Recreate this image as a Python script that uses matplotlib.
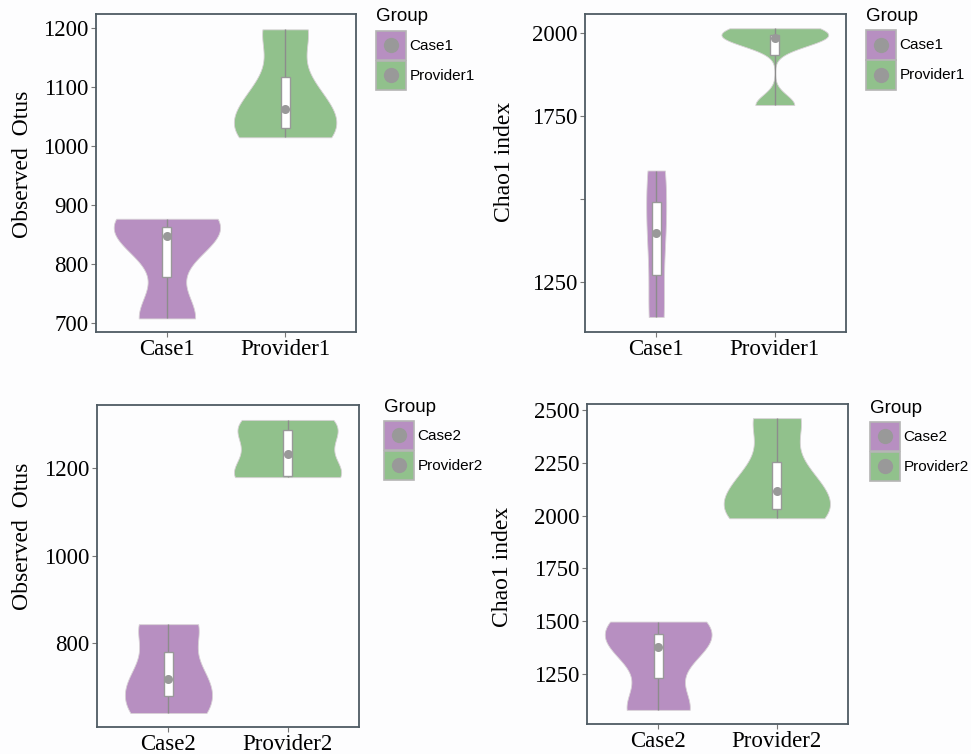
import numpy as np
import matplotlib
matplotlib.use('Agg')
import matplotlib.pyplot as plt
from matplotlib.patches import Rectangle

W, H = 971, 754

# ---------------- data (sample values) ----------------
obs1_case1 = [708, 848, 877]
obs1_provider1 = [1015, 1035, 1090, 1198]
chao1_case1 = [1145, 1398, 1586]
chao1_provider1 = [1783, 1984, 1988, 2014]
obs2_case2 = [640, 717, 843]
obs2_provider2 = [1179, 1184, 1279, 1310]
chao2_case2 = [1080, 1379, 1498]
chao2_provider2 = [1987, 2044, 2186, 2461]

groups1 = ['Case1', 'Provider1']
groups2 = ['Case2', 'Provider2']
legend_title = 'Group'
ylabel_obs = 'Observed  Otus'
ylabel_chao = 'Chao1 index'

obs1_ticks = [700, 800, 900, 1000, 1100, 1200]
obs1_ticklabels = ['700', '800', '900', '1000', '1100', '1200']
chao1_ticks = [1250, 1500, 1750, 2000]
chao1_ticklabels = ['1250', '', '1750', '2000']
obs2_ticks = [800, 1000, 1200]
obs2_ticklabels = ['800', '1000', '1200']
chao2_ticks = [1250, 1500, 1750, 2000, 2250, 2500]
chao2_ticklabels = ['1250', '1500', '1750', '2000', '2250', '2500']

# ---------------- style ----------------
COLORS = ['#B78FC1', '#91C18C']
BG = '#fdfdfe'
SPINE = '#4f5b63'
GREY = '#999999'
SERIF = 'Liberation Serif'
SANS = 'Liberation Sans'


def nrd0(x):
    x = np.asarray(x, float)
    sd = x.std(ddof=1)
    q75, q25 = np.percentile(x, [75, 25])
    lo = min(sd, (q75 - q25) / 1.34)
    return 0.9 * lo * len(x) ** -0.2


def kde(x):
    x = np.asarray(x, float)
    bw = nrd0(x)
    ys = np.linspace(x.min(), x.max(), 512)
    d = np.exp(-0.5 * ((ys[:, None] - x[None, :]) / bw) ** 2).sum(1)
    d /= len(x) * bw * np.sqrt(2 * np.pi)
    return ys, d


fig = plt.figure(figsize=(W / 100, H / 100), dpi=100)
fig.patch.set_facecolor(BG)


def px_rect(left, top, right, bottom):
    return [left / W, (H - bottom) / H, (right - left) / W, (bottom - top) / H]


def panel(box, samples, groups, ylim, ticks, ticklabels):
    ax = fig.add_axes(px_rect(*box))
    ax.set_facecolor(BG)
    dens = [kde(s) for s in samples]
    m = max(d.max() for _, d in dens)
    boxw = 0.075
    for i, ((ys, d), s, c) in enumerate(zip(dens, samples, COLORS)):
        pos = i + 1
        hw = 0.45 * d / m
        ax.fill_betweenx(ys, pos - hw, pos + hw, facecolor=c,
                         edgecolor='#d8d2d6', lw=0.6, zorder=2)
        q1, med, q3 = np.percentile(s, [25, 50, 75])
        ax.plot([pos, pos], [min(s), max(s)], color='#8c8c8c', lw=1.0,
                zorder=3, solid_capstyle='butt')
        ax.add_patch(Rectangle((pos - boxw / 2, q1), boxw, q3 - q1,
                               facecolor='white', edgecolor=GREY, lw=1.0,
                               zorder=4))
        ax.plot(pos, med, 'o', color=GREY, ms=6.5, mew=0, zorder=5)
    ax.set_xlim(0.4, 2.6)
    ax.set_ylim(*ylim)
    ax.set_xticks([1, 2])
    ax.set_xticklabels(groups, family=SERIF, fontsize=16.5)
    ax.set_yticks(ticks)
    ax.set_yticklabels(ticklabels, family=SERIF, fontsize=16.5)
    ax.tick_params(axis='y', length=3.5, width=0.8, color='#777777',
                   pad=2, labelcolor='black')
    ax.tick_params(axis='x', length=3.5, width=0.8, color='#777777',
                   pad=1.5, labelcolor='black')
    for sp in ax.spines.values():
        sp.set_color(SPINE)
        sp.set_linewidth(1.3)
    return ax


panel((96, 14, 356, 332), [obs1_case1, obs1_provider1], groups1,
      (685, 1224), obs1_ticks, obs1_ticklabels)
panel((585, 14, 846, 332), [chao1_case1, chao1_provider1], groups1,
      (1100, 2057), chao1_ticks, chao1_ticklabels)
panel((97, 405, 359, 727), [obs2_case2, obs2_provider2], groups2,
      (608, 1344), obs2_ticks, obs2_ticklabels)
panel((587, 404, 848, 724), [chao2_case2, chao2_provider2], groups2,
      (1013, 2528), chao2_ticks, chao2_ticklabels)

# overlay in pixel coordinates for y labels and legends
ov = fig.add_axes([0, 0, 1, 1])
ov.set_xlim(0, W)
ov.set_ylim(H, 0)
ov.axis('off')
ov.patch.set_alpha(0)

for (x, y, t) in [(23, 164, ylabel_obs), (504, 162, ylabel_chao),
                  (23, 536, ylabel_obs), (503, 567, ylabel_chao)]:
    ov.text(x, y, t, rotation=90, ha='center', va='center',
            family=SERIF, fontsize=17)


def legend(kx, title_base, ktop, groups):
    ov.text(kx, title_base, legend_title, family=SANS, fontsize=13.5,
            ha='left', va='baseline')
    ks = 29.5
    for i, (g, c) in enumerate(zip(groups, COLORS)):
        y0 = ktop + i * (ks + 0.5)
        ov.add_patch(Rectangle((kx, y0), ks, ks, facecolor=c,
                               edgecolor='#b4b4b4', lw=1.2))
        ov.plot(kx + ks / 2, y0 + ks / 2, 'o', color=GREY, ms=11, mew=0)
        ov.text(kx + ks + 4, y0 + ks / 2 + 0.5, g, family=SANS,
                fontsize=11.0, ha='left', va='center')


legend(376, 21, 30.5, groups1)
legend(866, 21, 30.0, groups1)
legend(384, 412, 420.5, groups2)
legend(870, 413, 421.5, groups2)

fig.savefig('out.png', dpi=100, facecolor=BG)
